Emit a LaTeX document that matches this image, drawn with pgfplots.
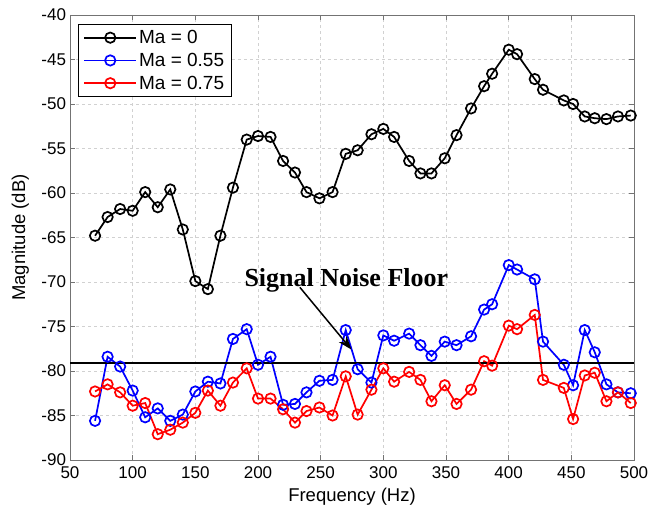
\documentclass[border=0pt]{standalone}
\usepackage{pgfplots}
\pgfplotsset{compat=1.18}
\usepackage{pgfplotstable}
\usetikzlibrary{arrows.meta}
\usepackage{fontspec}
\setmainfont{Liberation Sans}
\newfontfamily\timesfont{Liberation Serif}
\pgfplotstableread{
f a b c
70 -64.8 -85.6 -82.3
80 -62.7 -78.4 -81.5
90 -61.8 -79.5 -82.4
100 -62.0 -82.2 -83.9
110 -59.9 -85.2 -83.6
120 -61.6 -84.2 -87.1
130 -59.6 -85.6 -86.6
140 -64.1 -84.9 -85.8
150 -69.9 -82.3 -84.7
160 -70.8 -81.2 -82.2
170 -64.8 -81.4 -83.9
180 -59.4 -76.4 -81.3
191 -54.0 -75.3 -79.7
200 -53.6 -79.3 -83.1
210 -53.7 -78.4 -83.1
220 -56.4 -83.8 -84.3
229.5 -57.7 -83.7 -85.8
238.7 -59.9 -82.4 -84.5
249 -60.6 -81.1 -84.1
259.5 -59.9 -81.0 -85.0
270 -55.6 -75.4 -80.6
279.5 -55.2 -79.8 -84.9
290.5 -53.4 -81.3 -82.1
300 -52.8 -76.0 -79.7
308.6 -53.7 -76.6 -81.2
320.6 -56.4 -75.8 -80.1
329.6 -57.8 -77.1 -81.0
338.4 -57.8 -78.3 -83.4
349 -56.1 -76.7 -81.6
358.4 -53.5 -77.1 -83.7
370 -50.5 -76.1 -82.1
380.4 -48.0 -73.1 -78.9
386.8 -46.6 -72.5 -79.4
400.1 -43.9 -68.1 -74.9
406.7 -44.4 -68.6 -75.3
420.8 -47.2 -69.7 -73.7
427.4 -48.4 -76.7 -81.0
444 -49.6 -79.3 -81.9
451.4 -50.0 -81.6 -85.4
460.7 -51.4 -75.4 -80.5
468.7 -51.6 -77.9 -80.2
478 -51.7 -81.5 -83.4
487.2 -51.4 -82.4 -82.4
497.4 -51.3 -82.5 -83.6
}\datatable
\pgfplotstableread{
f n
50 -79.1
500 -79.1
}\floortable
\begin{document}
\begin{tikzpicture}
\begin{axis}[
  scale only axis,
  width=564pt, height=445pt,
  xmin=50, xmax=500, ymin=-90, ymax=-40,
  xtick={50,100,...,500},
  ytick={-90,-85,...,-40},
  /pgf/number format/assume math mode=true,
  tick label style={font=\fontsize{17}{20}\selectfont},
  xticklabel style={yshift=-3pt},
  yticklabel style={xshift=-0.5pt},
  xlabel={Frequency (Hz)},
  ylabel={Magnitude (dB)},
  label style={font=\fontsize{18.5}{22}\selectfont},
  xlabel style={at={(axis description cs:0.5,-0.083)}, anchor=center},
  ylabel style={at={(axis description cs:-0.088,0.5)}, anchor=center},
  axis line style={black!55, line width=0.8pt},
  tick style={black!55, line width=0.8pt},
  major tick length=5pt,
  tick align=inside,
  xtick pos=both, ytick pos=both,
  grid=major,
  major grid style={dashed, black!18, line width=0.5pt},
  legend cell align=left,
  legend style={at={(rel axis cs:0.0142,0.98)}, anchor=north west,
    draw=black, line width=0.8pt, inner xsep=5pt, inner ysep=4pt,
    font=\fontsize{19}{22}\selectfont,
    row sep=4pt,
    /tikz/every even column/.append style={column sep=3pt}},
  legend image code/.code={
    \draw[line width=1.7pt, mark repeat=2,mark phase=2] plot coordinates {(0pt,0pt) (26pt,0pt) (52pt,0pt)};},
  every axis plot/.append style={line width=1.7pt, mark=o, mark size=5.2pt, mark options={line width=1.7pt}},
]
\addplot[black] table[x=f,y=a] {\datatable};
\addlegendentry{Ma = 0}
\addplot[blue] table[x=f,y=b] {\datatable};
\addlegendentry{Ma = 0.55}
\addplot[red] table[x=f,y=c] {\datatable};
\addlegendentry{Ma = 0.75}
\addplot[black, line width=2.6pt, mark=none, forget plot] table[x=f,y=n] {\floortable};
\draw[-{Stealth[length=14pt,width=10pt]}, line width=1.5pt] (axis cs:233.4,-70.6) -- (axis cs:274.6,-77.6);
\node[anchor=base, font=\timesfont\bfseries\fontsize{26}{30}\selectfont] at (axis cs:270.5,-70.56) {Signal Noise Floor};
\end{axis}
\pgfresetboundingbox
\path[use as bounding box] ([shift={(-70pt,-50pt)}]current axis.south west) rectangle ([shift={(15pt,15pt)}]current axis.north east);
\end{tikzpicture}
\end{document}
